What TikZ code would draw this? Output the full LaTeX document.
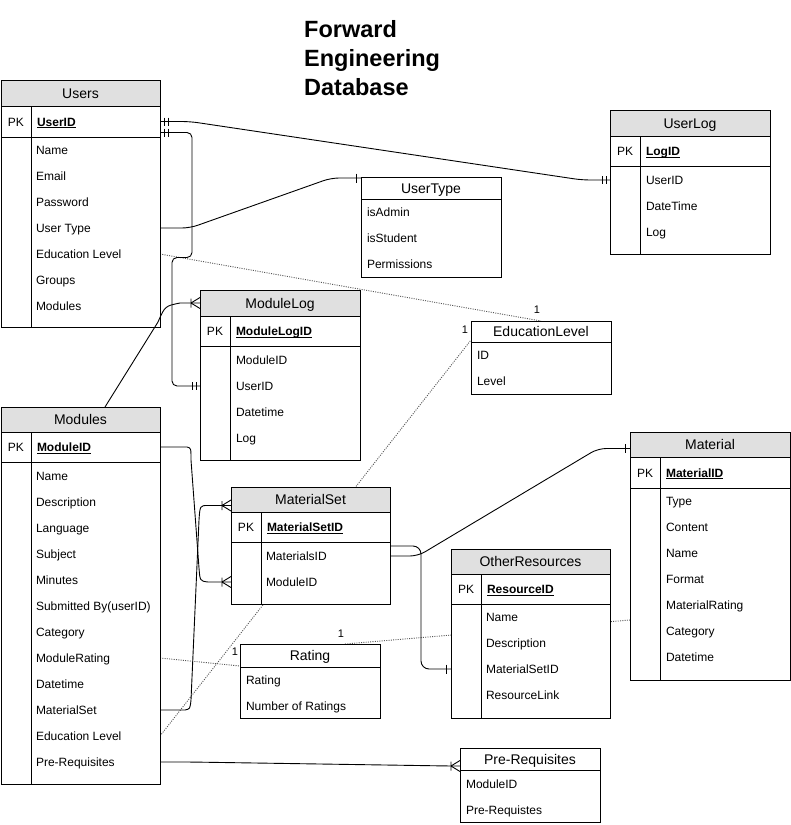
\documentclass[tikz,border=0pt]{standalone}
\usepackage{fontspec}
\setmainfont{Liberation Sans}
\usetikzlibrary{calc}
\pgfdeclarelayer{background}
\pgfsetlayers{background,main}
\definecolor{hdrgray}{RGB}{224,224,224}
\definecolor{reldot}{RGB}{85,85,85}
\newcommand\erpk[9]{%
  \node[tblnode, minimum width={(#3-#2)*1pt}, minimum height={(#7-#4)*1pt}] (#1) at (#2,#4) {};
  \fill[hdrgray] (#2,#4) rectangle (#3,#5);
  \draw[tblline] (#2,#4) rectangle (#3,#7) (#2,#5) -- (#3,#5) (#2,#6) -- (#3,#6) (#2+30,#5) -- (#2+30,#7);
  \node[ttl] (#1-title) at ({(#2+#3)/2},{(#4+#5)/2}) {#8};
  \node[fld, anchor=center] (#1-pkl) at (#2+15,{(#5+#6)/2}) {PK};
  \node[pkf] (#1-pk) at (#2+36,{(#5+#6)/2}) {\underline{\smash{#9}}};
}
\newcommand\ersimple[7]{%
  \node[tblnode, minimum width={(#3-#2)*1pt}, minimum height={(#6-#4)*1pt}] (#1) at (#2,#4) {};
  \draw[tblline] (#2,#4) rectangle (#3,#6) (#2,#5) -- (#3,#5);
  \node[ttl] (#1-title) at ({(#2+#3)/2},{(#4+#5)/2}) {#7};
}
\newcommand\erfields[4]{%
  \foreach \fname [count=\fidx] in {#4} {
    \node[fld] (#1-\fidx) at (#2,{#3+26*(\fidx-1)}) {\fname};
  }
}
\begin{document}
\begin{tikzpicture}[x=1pt,y=-1pt,
  tblnode/.style={fill=white, inner sep=0pt, outer sep=0pt, anchor=north west},
  tblline/.style={line width=0.9pt, black},
  fld/.style={font=\fontsize{12}{14}\selectfont, inner sep=0pt, outer sep=0pt, text height=12pt, text depth=3pt, anchor=west},
  pkf/.style={fld, font=\fontsize{12}{14}\selectfont\bfseries},
  ttl/.style={font=\fontsize{14}{16}\selectfont, inner sep=0pt, outer sep=0pt, text height=13pt, text depth=3pt},
  titlef/.style={font=\fontsize{23.5}{28}\selectfont\bfseries, inner sep=0pt, anchor=base west},
  lbl/.style={font=\fontsize{11}{13}\selectfont, inner sep=0pt},
  conn/.style={line width=0.9pt, rounded corners=8pt},
  conn0/.style={line width=0.9pt},
  rel/.style={line width=0.9pt, reldot, dash pattern=on 1pt off 1.3pt},
  mk/.style={line width=0.9pt},
  pics/tone/.style={code={\draw[mk] (-5,-4.5) -- (-5,4.5);}},
  pics/ttwo/.style={code={\draw[mk] (-4,-4) -- (-4,4) (-8,-4) -- (-8,4);}},
  pics/tcrow/.style={code={\draw[mk] (-9,0) -- (0,-5.5) (-9,0) -- (0,5.5) (-9,-4.5) -- (-9,4.5);}},
]
\useasboundingbox (0,0) rectangle (791,825);

% title
\node[titlef] (title1) at (304,37) {Forward};
\node[titlef] (title2) at (304,66) {Engineering};
\node[titlef] (title3) at (304,95) {Database};

% tables
\erpk{users}{1}{160}{80}{106}{137}{327}{Users}{UserID}
\erfields{users}{36}{150}{Name,Email,Password,User Type,Education Level,Groups,Modules}

\erpk{userlog}{610}{770}{110}{136}{166}{254}{UserLog}{LogID}
\erfields{userlog}{646}{180}{UserID,DateTime,Log}

\ersimple{usertype}{361}{501}{177}{199}{277}{UserType}
\erfields{usertype}{367}{212}{isAdmin,isStudent,Permissions}

\erpk{modulelog}{200}{360}{290}{316}{346}{460}{ModuleLog}{ModuleLogID}
\erfields{modulelog}{236}{360}{ModuleID,UserID,Datetime,Log}

\ersimple{edu}{471}{611}{321}{342}{394}{EducationLevel}
\erfields{edu}{477}{355}{ID,Level}

\erpk{modules}{1}{160}{407}{432}{462}{784}{Modules}{ModuleID}
\erfields{modules}{36}{476}{Name,Description,Language,Subject,Minutes,Submitted By(userID),Category,ModuleRating,Datetime,MaterialSet,Education Level,Pre-Requisites}

\erpk{materialset}{231}{390}{487}{512}{542}{604}{MaterialSet}{MaterialSetID}
\erfields{materialset}{266}{556}{MaterialsID,ModuleID}

\erpk{otherres}{451}{610}{549}{574}{604}{718}{OtherResources}{ResourceID}
\erfields{otherres}{486}{617}{Name,Description,MaterialSetID,ResourceLink}

\erpk{material}{630}{790}{432}{457}{488}{680}{Material}{MaterialID}
\erfields{material}{666}{501}{Type,Content,Name,Format,MaterialRating,Category,Datetime}

\ersimple{rating}{240}{380}{644}{667}{718}{Rating}
\erfields{rating}{246}{680}{Rating,Number of Ratings}

\ersimple{prereq}{460}{600}{748}{770}{822}{Pre-Requisites}
\erfields{prereq}{466}{784}{ModuleID,Pre-Requistes}

% dotted relations (behind tables)
\begin{pgfonlayer}{background}
\draw[rel] (users.east |- users-5) -- (edu.north);
\draw[rel] (modules.east |- modules-11) -- ($(edu.north west)+(0,19)$);
\draw[rel] (modules.east |- modules-8) -- ($(rating.north west)+(0,22)$);
\draw[rel] ($(rating.north)+(35,0)$) -- ($(material.west |- material-5)+(0,15)$);
\end{pgfonlayer}
\node[lbl] (one1) at ($(edu.north)+(-4,-11)$) {1};
\node[lbl] (one2) at ($(edu.north west)+(-6,9)$) {1};
\node[lbl] (one3) at ($(rating.north west)+(-5,8)$) {1};
\node[lbl] (one4) at ($(rating.north)+(31,-10)$) {1};

% solid relations
\draw[conn] (users.east |- users-pk) -- ++(30,0) -- ($(userlog.west |- userlog-1)+(-28,0)$) -- (userlog.west |- userlog-1);
\draw[conn, rounded corners=5pt] ($(users.east |- users-pk)+(0,11)$) -- ++(32,0) -- ++(0,125) -- ++(-20,0) |- (modulelog.west |- modulelog-2);
\draw[conn] (users.east |- users-4) -- ++(30,0) -- ($(usertype.north west)+(-30,1)$) -- ($(usertype.north west)+(0,1)$);
\draw[conn0] ($(modules.north west)+(104,0)$) -- (158,322) .. controls (165,306) .. ($(modulelog.west |- modulelog-title)+(-20,0)$) -- (modulelog.west |- modulelog-title);
\draw[conn0] (modules.east |- modules-pk) -- (187,447) .. controls (191,448) .. (191,460) -- (199,568) .. controls (200,581) .. (208,582) -- (materialset.west |- materialset-2);
\draw[conn0] (modules.east |- modules-10) -- (185,710) .. controls (190,709) .. (191,700) -- (199,520) .. controls (200,505.5) .. (208,505.5) -- ($(materialset.west |- materialset-title)+(0,6)$);
\draw[conn] ($(materialset.east |- materialset-1)+(0,-10)$) -| ($(otherres.west |- otherres-3)+(-30,0)$) -- (otherres.west |- otherres-3);
\draw[conn] (materialset.east |- materialset-1) -- ++(28,0) -- ($(material.west |- material-title)+(-32,4)$) -- ($(material.west |- material-title)+(0,4)$);
\draw[conn] (modules.east |- modules-12) -- ++(30,0) -- ($(prereq.west |- prereq-title)+(-10,7)$) -- ($(prereq.west |- prereq-title)+(0,7)$);

% markers
\pic[xscale=-1] at (users.east |- users-pk) {ttwo};
\pic[xscale=-1] at ($(users.east |- users-pk)+(0,11)$) {ttwo};
\pic at (userlog.west |- userlog-1) {ttwo};
\pic at (modulelog.west |- modulelog-2) {ttwo};
\pic at ($(usertype.north west)+(0,1)$) {tone};
\pic at (modulelog.west |- modulelog-title) {tcrow};
\pic at (materialset.west |- materialset-2) {tcrow};
\pic at ($(materialset.west |- materialset-title)+(0,6)$) {tcrow};
\pic at (otherres.west |- otherres-3) {tone};
\pic at ($(material.west |- material-title)+(0,4)$) {tone};
\pic at ($(prereq.west |- prereq-title)+(0,7)$) {tcrow};
\end{tikzpicture}
\end{document}
